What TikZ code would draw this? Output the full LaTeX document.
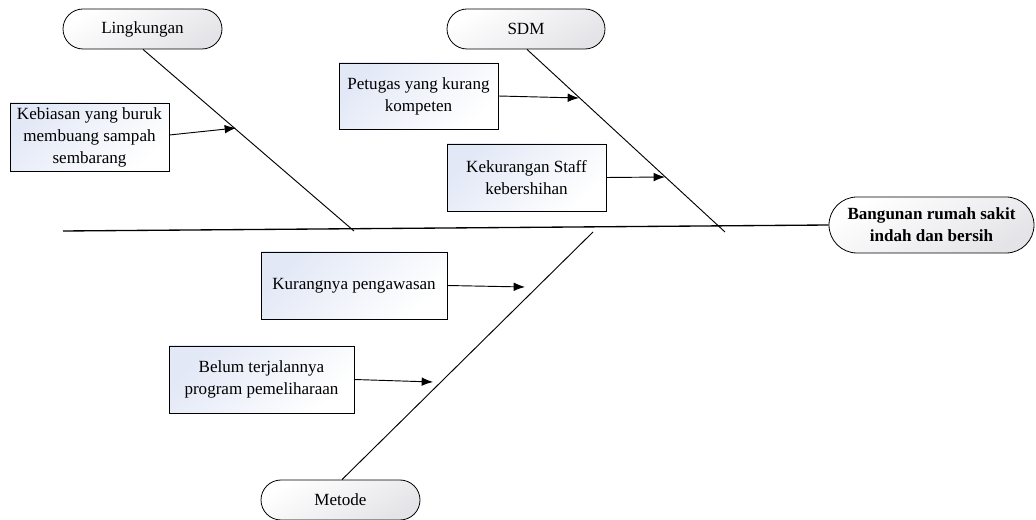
\documentclass[tikz,border=0pt]{standalone}
\usepackage{fontspec}
\setmainfont{Liberation Serif}
\usetikzlibrary{arrows.meta}
\definecolor{boxblue}{HTML}{E2E8F6}
\definecolor{stadgray}{HTML}{E4E4E8}
\tikzset{
  causebox/.style={draw=black, line width=0.6pt, inner sep=0pt, align=center,
    top color=boxblue, bottom color=white, shading angle=45,
    font=\fontsize{12.8}{16.5}\selectfont},
  stadium/.style={draw=black, line width=0.6pt, inner sep=0pt, align=center,
    rounded corners=15pt, minimum height=30pt,
    top color=white, bottom color=stadgray, shading angle=30,
    font=\fontsize{12.8}{15}\selectfont},
  bone/.style={line width=0.7pt},
  spineline/.style={line width=1pt},
  causearrow/.style={line width=0.7pt, -{Latex[length=8.5pt,width=6.5pt]}}
}
\begin{document}
\begin{tikzpicture}[x=0.75pt,y=-0.75pt]
\useasboundingbox (0,0) rectangle (1036,520);
% heads
\node[stadium, minimum width=119.25pt] (lingk) at (142.5,29) {Lingkungan};
\node[stadium, minimum width=118.5pt] (sdm) at (526,29) {SDM};
\node[stadium, minimum width=119.25pt] (metode) at (340.5,500) {Metode};
\node[stadium, minimum width=153.75pt, minimum height=42pt, rounded corners=21pt,
      font=\bfseries\fontsize{12.8}{16.5}\selectfont] (effect) at (931.5,225)
      {Bangunan rumah sakit\\indah dan bersih};
% spine
\coordinate (spinestart) at (63,231);
\draw[spineline] (spinestart) -- (effect.west);
% bones
\coordinate (lend) at (354,231);
\coordinate (send) at (725,232);
\coordinate (mend) at (593,232);
\draw[bone] (lingk.south) ++(0.5,0) coordinate (lstart) -- (lend);
\draw[bone] (sdm.south) ++(1,0) coordinate (sstart) -- (send);
\draw[bone] (metode.north) ++(1.5,0) coordinate (mstart) -- (mend);
% cause boxes
\node[causebox, minimum width=119.25pt, minimum height=51pt] (keb) at (89.5,137)
  {Kebiasan yang buruk\\membuang sampah\\sembarang};
\node[causebox, minimum width=119.25pt, minimum height=49.5pt] (pet) at (418.5,96)
  {Petugas yang kurang\\kompeten};
\node[causebox, minimum width=119.25pt, minimum height=50.25pt] (kek) at (526.5,177.5)
  {Kekurangan Staff\\kebershihan};
\node[causebox, minimum width=139.5pt, minimum height=50.25pt] (kur) at (354,285.5)
  {Kurangnya pengawasan};
\node[causebox, minimum width=138.75pt, minimum height=50.25pt] (bel) at (261.5,379.5)
  {Belum terjalannya\\program pemeliharaan};
% arrow targets on bones
\coordinate (akeb) at (236,128);
\coordinate (apet) at (579,98);
\coordinate (akek) at (665,177);
\coordinate (akur) at (525,287);
\coordinate (abel) at (433,382);
\draw[causearrow] (keb.east) ++(0,-2) coordinate (skeb) -- (akeb);
\draw[causearrow] (pet.east) -- (apet);
\draw[causearrow] (kek.east) -- (akek);
\draw[causearrow] (kur.east) -- (akur);
\draw[causearrow] (bel.east) -- (abel);
\end{tikzpicture}
\end{document}
